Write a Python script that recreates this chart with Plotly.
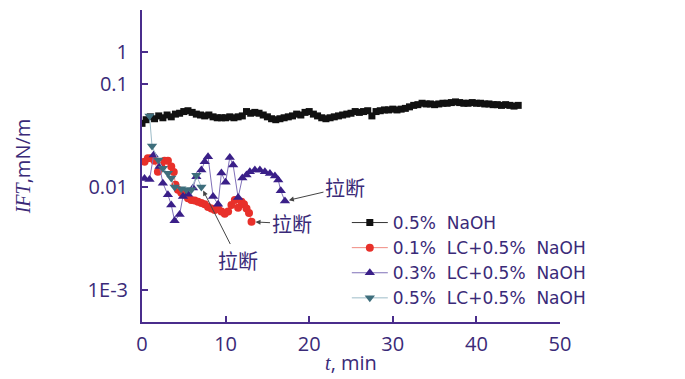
import numpy as np
import plotly.graph_objects as go

# ---- data ----
t_naoh = [i * 0.5 for i in range(91)]
ift_naoh = [0.0415, 0.045, 0.048, 0.046, 0.049, 0.047, 0.050, 0.048, 0.051, 0.052,
            0.054, 0.055, 0.053, 0.051, 0.050, 0.049, 0.050, 0.048, 0.047, 0.047,
            0.047, 0.048, 0.047, 0.048, 0.049, 0.054, 0.052, 0.053, 0.052, 0.050,
            0.048, 0.046, 0.045, 0.046, 0.047, 0.048, 0.049, 0.051, 0.050, 0.053,
            0.054, 0.051, 0.049, 0.047, 0.046, 0.047, 0.048, 0.049, 0.050, 0.051,
            0.052, 0.054, 0.053, 0.054, 0.055, 0.049, 0.054, 0.055, 0.056, 0.056,
            0.057, 0.056, 0.057, 0.058, 0.060, 0.062, 0.063, 0.065, 0.064, 0.064,
            0.063, 0.064, 0.065, 0.065, 0.066, 0.067, 0.066, 0.065, 0.065, 0.066,
            0.065, 0.065, 0.064, 0.064, 0.063, 0.063, 0.062, 0.063, 0.062, 0.061,
            0.062]

t_lc01 = [0.3, 0.7, 1.1, 1.5, 1.9, 2.3, 2.7, 3.1, 3.5, 3.8, 4.0, 4.3, 4.7, 5.1, 5.5,
          5.9, 6.3, 6.7, 7.1, 7.5, 7.9, 8.3, 8.7, 9.1, 9.5, 9.9, 10.3, 10.7, 11.1,
          11.5, 11.9, 12.2, 12.5, 12.8, 13.1]
ift_lc01 = [0.0176, 0.019, 0.019, 0.018, 0.0141, 0.016, 0.018, 0.018, 0.0158, 0.014,
            0.0105, 0.0094, 0.0088, 0.0084, 0.0078, 0.0075, 0.0074, 0.0072, 0.0070,
            0.0068, 0.0064, 0.0062, 0.0060, 0.0062, 0.0058, 0.0055, 0.0058, 0.0067,
            0.0075, 0.0063, 0.0072, 0.0068, 0.0062, 0.0056, 0.0046]

t_lc03 = [0.3, 0.9, 1.4, 2.1, 2.5, 3.1, 3.5, 3.9, 4.5, 4.9, 5.5, 6.1, 6.5, 7.1, 7.5,
          7.9, 8.5, 9.1, 9.5, 10.0, 10.5, 10.9, 11.5, 12.0, 12.5, 12.9, 13.5, 14.1,
          14.7, 15.3, 15.9, 16.3, 16.6, 17.1]
ift_lc03 = [0.0121, 0.0118, 0.0205, 0.0158, 0.0109, 0.0084, 0.0067, 0.0047, 0.0054,
            0.0081, 0.0085, 0.0098, 0.0126, 0.0146, 0.0176, 0.0197, 0.0081, 0.0068,
            0.0137, 0.0111, 0.0193, 0.0164, 0.0079, 0.0122, 0.0131, 0.0141, 0.0146,
            0.0146, 0.0141, 0.0135, 0.0128, 0.0117, 0.0092, 0.0073]

t_lc05 = [0.9, 1.2, 1.95, 2.5, 3.1, 3.5, 3.9, 4.7, 5.3, 5.9, 6.5, 7.1]
ift_lc05 = [0.049, 0.025, 0.0183, 0.0152, 0.0136, 0.0122, 0.0100, 0.0096, 0.0094,
            0.0094, 0.0130, 0.0100]

names = ["0.5%\u00a0\u00a0NaOH", "0.1%\u00a0\u00a0LC+0.5%\u00a0\u00a0NaOH",
         "0.3%\u00a0\u00a0LC+0.5%\u00a0\u00a0NaOH", "0.5%\u00a0\u00a0LC+0.5%\u00a0\u00a0NaOH"]

y_tickvals = [0.001, 0.01, 0.1, 0.205]
y_ticktext = ["1E-3", "0.01", "0.1", "1"]
x_tickvals = [0, 10, 20, 30, 40, 50]

TXT = "#3a2a78"
AX = "#4a2d8c"
FONT = "Open Sans"

fig = go.Figure()
fig.add_trace(go.Scatter(x=t_naoh, y=ift_naoh, name=names[0], mode="lines+markers",
                         line=dict(color="#333333", width=1),
                         marker=dict(symbol="square", size=7, color="#111111")))
fig.add_trace(go.Scatter(x=t_lc01, y=ift_lc01, name=names[1], mode="lines+markers",
                         line=dict(color="#f08a80", width=1),
                         marker=dict(symbol="circle", size=8, color="#e8302a")))
fig.add_trace(go.Scatter(x=t_lc03, y=ift_lc03, name=names[2], mode="lines+markers",
                         line=dict(color="#7f70b8", width=1),
                         marker=dict(symbol="triangle-up", size=9, color="#3a1f88")))
fig.add_trace(go.Scatter(x=t_lc05, y=ift_lc05, name=names[3], mode="lines+markers",
                         line=dict(color="#9dbcc8", width=1),
                         marker=dict(symbol="triangle-down", size=9, color="#3e6e7c")))

ann_font = dict(family="Noto Sans CJK SC", size=20, color=TXT)
for xv, yv, ax, ay in [(t_lc03[-1], ift_lc03[-1], 60, -14),
                       (t_lc01[-1], ift_lc01[-1], 40, 2),
                       (t_lc05[-1], ift_lc05[-1], 37, 73)]:
    fig.add_annotation(x=xv, y=np.log10(yv), xref="x", yref="y", text="拉断",
                       showarrow=True, ax=ax, ay=ay, arrowhead=2, arrowsize=1,
                       arrowwidth=1, arrowcolor="#444444", standoff=4,
                       font=ann_font)

fig.update_layout(
    width=685, height=379,
    margin=dict(l=142, r=125, t=10, b=57),
    paper_bgcolor="white", plot_bgcolor="white",
    font=dict(family=FONT, size=20, color=TXT),
    showlegend=True,
    legend=dict(x=0.49, y=0.375, xanchor="left", yanchor="top",
                bgcolor="rgba(0,0,0,0)", font=dict(family="DejaVu Sans", size=17, color=TXT),
                itemwidth=36, tracegroupgap=0),
)
fig.update_xaxes(range=[0, 50], tickvals=x_tickvals, ticks="inside", ticklen=6,
                 tickwidth=2, tickcolor=AX, showline=True, linecolor=AX, linewidth=2,
                 showgrid=False, zeroline=False, ticklabelstandoff=3, automargin=False,
                 title=dict(text="<i><span style='font-family:Liberation Serif'>t</span></i>, min",
                            font=dict(family=FONT, size=20, color=TXT), standoff=0))
fig.update_yaxes(type="log", range=[-3.31, -0.282], tickvals=y_tickvals,
                 ticktext=y_ticktext, ticks="inside", ticklen=6, tickwidth=2,
                 tickcolor=AX, showline=True, linecolor=AX, linewidth=2,
                 showgrid=False, zeroline=False, ticklabelstandoff=8, automargin=False,
                 title=dict(text="<i><span style='font-family:Liberation Serif'>IFT</span></i>,mN/m",
                            font=dict(family=FONT, size=20, color=TXT), standoff=52))

fig.write_html("out.html", config={"displayModeBar": False},
               post_script="document.body.style.margin='0';")
